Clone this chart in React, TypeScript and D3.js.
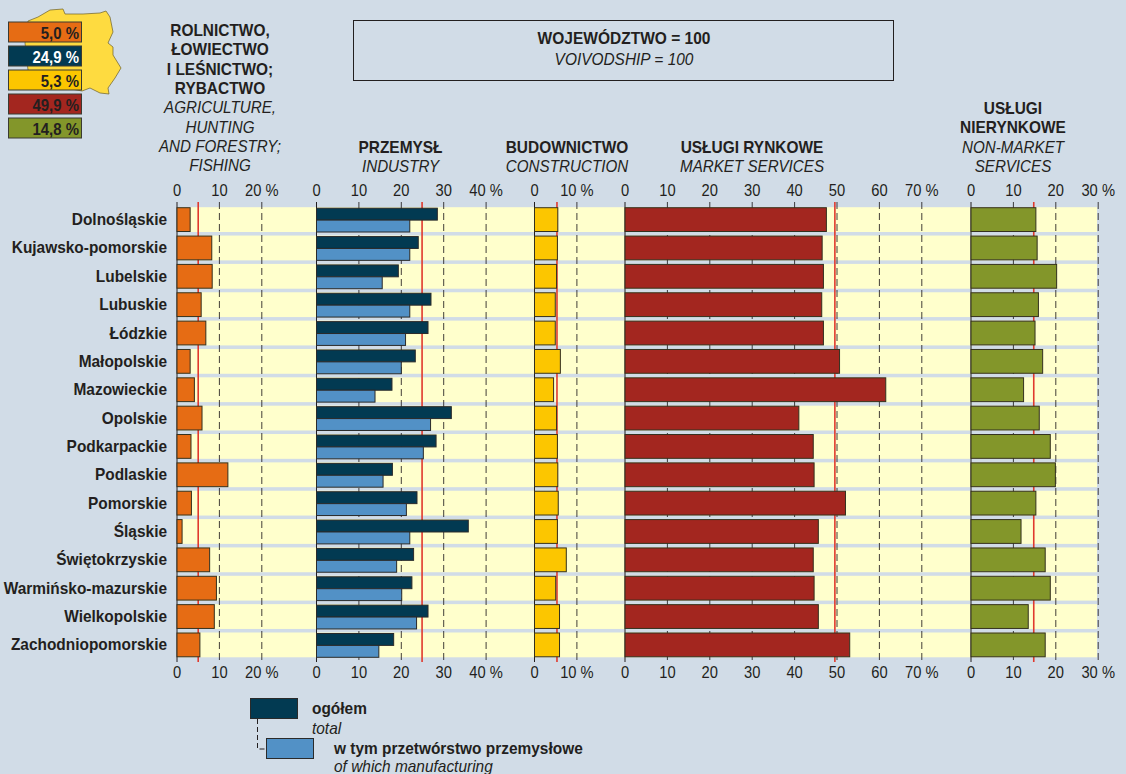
import React from "react";
import * as d3 from "d3";

const regions = ["Dolnośląskie","Kujawsko-pomorskie","Lubelskie","Lubuskie","Łódzkie","Małopolskie","Mazowieckie","Opolskie","Podkarpackie","Podlaskie","Pomorskie","Śląskie","Świętokrzyskie","Warmińsko-mazurskie","Wielkopolskie","Zachodniopomorskie"];
const agriculture = [3.1,8.2,8.3,5.7,6.8,3.1,4.1,5.9,3.3,12,3.4,1.2,7.7,9.3,8.8,5.4];
const industry = [28.5,24,19.3,27,26.3,23.3,17.8,31.8,28.2,17.9,23.7,35.8,22.9,22.5,26.3,18.2];
const manufacturing = [22,22,15.5,22,21,20,13.8,26.9,25.2,15.7,21.2,22,18.9,20.1,23.6,14.7];
const construction = [5.5,5.4,5.2,4.9,4.9,6.1,4.5,5.2,5.4,5.5,5.6,5.4,7.5,5,5.9,5.9];
const market = [47.5,46.5,46.8,46.4,46.8,50.6,61.5,41,44.4,44.6,52,45.6,44.4,44.6,45.6,53];
const nonmarket = [15.3,15.6,20.2,15.9,15.1,16.9,12.4,16.1,18.7,19.9,15.3,11.8,17.5,18.7,13.5,17.5];
const nationalLabels = ["5,0 %","24,9 %","5,3 %","49,9 %","14,8 %"];
const nationalColors = ["#e66c14","#023a52","#fcc600","#a3261f","#83962a"];
const nationalTextColors = ["#231f20","#ffffff","#231f20","#231f20","#231f20"];
const mapOutline: [number,number][] = [[28,21],[38,17],[50,10],[63,9],[65,14],[83,14],[100,13],[106,11],[110,17],[113,32],[108,43],[113,47],[113,55],[121,68],[115,78],[108,88],[109,94],[100,93],[90,88],[82,91],[50,85],[28,70],[25,43]];

const BG = "#d1dce7", YEL = "#ffffcc", INK = "#231f20";
const FONT = "'Liberation Sans', Arial, sans-serif";

type Panel = { x0:number; max:number; ticks:number[]; nat:number; series:number[]; color:string };
const pxPer = 4.24;
const panels: Panel[] = [
  {x0:177,max:30,ticks:[0,10,20],nat:5.0,series:agriculture,color:nationalColors[0]},
  {x0:316.5,max:40,ticks:[0,10,20,30,40],nat:24.9,series:industry,color:nationalColors[1]},
  {x0:534.5,max:20,ticks:[0,10],nat:5.3,series:construction,color:nationalColors[2]},
  {x0:625,max:80,ticks:[0,10,20,30,40,50,60,70],nat:49.5,series:market,color:nationalColors[3]},
  {x0:971,max:30,ticks:[0,10,20,30],nat:14.8,series:nonmarket,color:nationalColors[4]},
];

const rowScale = d3.scaleBand<string>().domain(regions).range([205.5,659]).paddingInner(0.125).paddingOuter(0.06);
const mapLine = d3.line().curve(d3.curveLinearClosed);

function T({x,y,anchor="start",size=16,sx=0.965,bold=false,ital=false,fill=INK,children}:any){
  return <text transform={`translate(${x} ${y}) scale(${sx} 1)`} textAnchor={anchor} fontSize={size} fontWeight={bold?"bold":"normal"} fontStyle={ital?"italic":"normal"} fill={fill}>{children}</text>;
}

function Head({x,y,bold,ital,lh=19.3}:{x:number;y:number;bold:string[];ital:string[];lh?:number}) {
  return <g>
    {bold.map((t,i)=><T key={t} x={x} y={y+i*lh} anchor="middle" bold>{t}</T>)}
    {ital.map((t,i)=><T key={t} x={x} y={y+(bold.length+i)*lh} anchor="middle" ital sx={0.95}>{t}</T>)}
  </g>;
}

export default function App(){
  const bh = rowScale.bandwidth();
  return <svg width={1126} height={774} style={{position:"fixed",left:0,top:0,display:"block",background:BG,fontFamily:FONT}}>
    <rect width={1126} height={774} fill={BG}/>
    <path d={mapLine(mapOutline) as string} fill="#fedb40" stroke="#6b5f2a" strokeWidth={0.7}/>
    {nationalLabels.map((l,i)=>{const y=22+i*24;return <g key={l}>
      <rect x={8.5} y={y} width={73} height={20} fill={nationalColors[i]} stroke="#3a3a32" strokeWidth={1}/>
      <T x={79} y={y+16.5} anchor="end" size={17} sx={0.88} bold fill={nationalTextColors[i]}>{l}</T>
    </g>;})}
    <Head x={220} y={36} bold={["ROLNICTWO,","ŁOWIECTWO","I LEŚNICTWO;","RYBACTWO"]} ital={["AGRICULTURE,","HUNTING","AND FORESTRY;","FISHING"]}/>
    <Head x={400.5} y={153} bold={["PRZEMYSŁ"]} ital={["INDUSTRY"]}/>
    <Head x={567} y={153} bold={["BUDOWNICTWO"]} ital={["CONSTRUCTION"]}/>
    <Head x={752} y={153} bold={["USŁUGI RYNKOWE"]} ital={["MARKET SERVICES"]}/>
    <Head x={1013} y={114} bold={["USŁUGI","NIERYNKOWE"]} ital={["NON-MARKET","SERVICES"]}/>
    <rect x={353.5} y={20.5} width={540} height={60} fill="none" stroke={INK} strokeWidth={1}/>
    <T x={624} y={44} anchor="middle" bold sx={0.97}>WOJEWÓDZTWO = 100</T>
    <T x={624} y={65} anchor="middle" ital>VOIVODSHIP = 100</T>

    {regions.map(r=><g key={r}>
      <rect x={177} y={rowScale(r)!} width={920} height={bh} fill={YEL}/>
      <T x={167} y={rowScale(r)!+bh/2+5.5} anchor="end" bold>{r}</T>
    </g>)}

    {panels.map((p,pi)=>{
      const x = d3.scaleLinear().domain([0,p.max]).range([p.x0,p.x0+p.max*pxPer]);
      return <g key={pi}>
        {p.ticks.map((t,ti)=>{
          const label = ti===p.ticks.length-1 ? `${t} %` : `${t}`;
          return <g key={t}>
            <line x1={x(t)} x2={x(t)} y1={202} y2={662} stroke={INK} strokeWidth={1} strokeDasharray={t===0?undefined:"7 4"} opacity={t===0?1:0.85}/>
            {[196,678].map(yy=><T key={yy} x={x(t)} y={yy} anchor="middle" size={16} sx={0.92}>{label}</T>)}
          </g>;
        })}
        <line x1={x(p.nat)} x2={x(p.nat)} y1={202} y2={662} stroke="#e0392d" strokeWidth={1.6}/>
        {p.series.map((v,i)=>{
          const y=rowScale(regions[i])!;
          if(pi===1){
            return <g key={i}>
              <rect x={x(0)} y={y+1} width={x(v)-x(0)} height={bh/2-0.5} fill={nationalColors[1]} stroke="#2a2a2a"/>
              <rect x={x(0)} y={y+bh/2+0.5} width={x(manufacturing[i])-x(0)} height={bh/2-0.5} fill="#5291c6" stroke="#2a2a2a"/>
            </g>;
          }
          return <rect key={i} x={x(0)} y={y+0.5} width={x(v)-x(0)} height={bh-1} fill={p.color} stroke="#33301f"/>;
        })}
      </g>;
    })}

    <rect x={250.5} y={698.5} width={47} height={20} fill={nationalColors[1]} stroke="#2a2a2a"/>
    <path d="M257.5 719V749H266" fill="none" stroke={INK} strokeDasharray="5 3"/>
    <rect x={266.5} y={738.5} width={47} height={20} fill="#5291c6" stroke="#2a2a2a"/>
    <T x={312} y={714} bold>ogółem</T>
    <T x={312} y={734} ital>total</T>
    <T x={334} y={754} bold>w tym przetwórstwo przemysłowe</T>
    <T x={334} y={772} ital>of which manufacturing</T>
  </svg>;
}
